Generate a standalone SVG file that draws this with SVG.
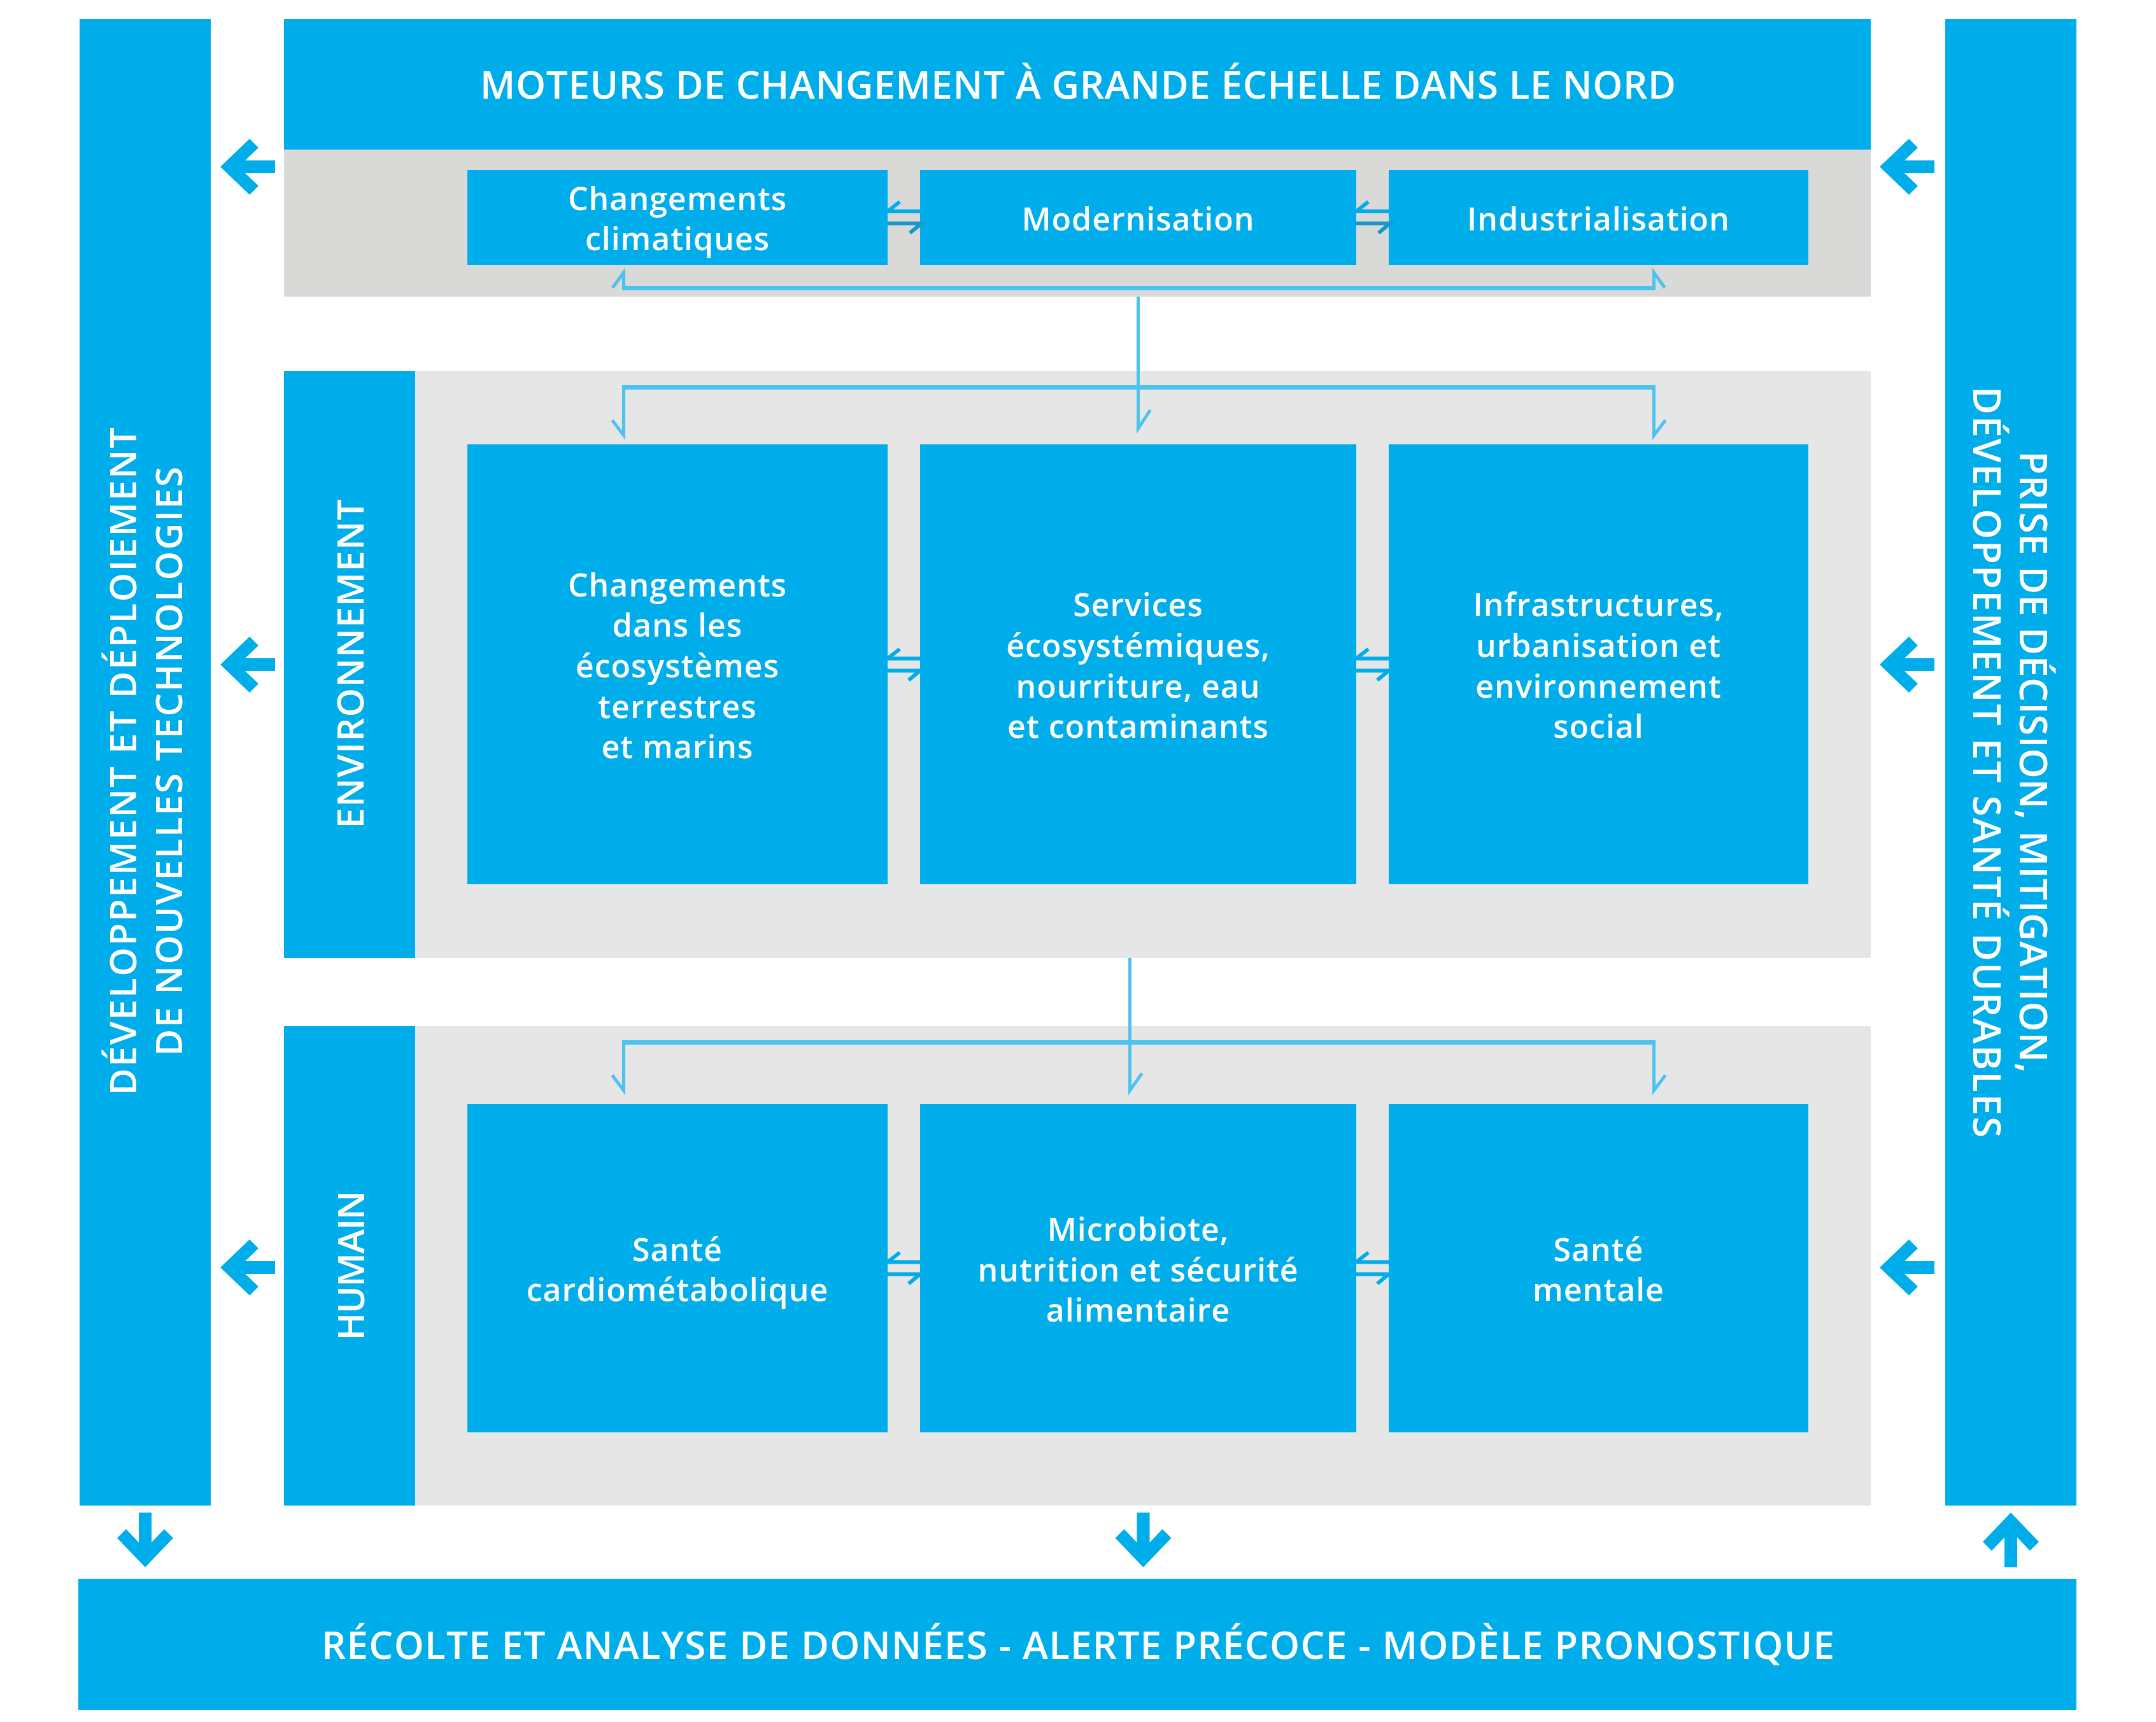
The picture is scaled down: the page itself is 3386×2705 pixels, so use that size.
<svg xmlns="http://www.w3.org/2000/svg" xmlns:xlink="http://www.w3.org/1999/xlink" width="3386" height="2705" viewBox="0 0 3386 2705">
<defs>
<style>
.blue{fill:#00ADEB}
.g1{fill:#D9D9D8}
.g2{fill:#E6E6E6}
.lbl{font-family:"Open Sans","Liberation Sans",sans-serif;font-weight:600;fill:#FFFFFF}
.cap{font-size:60px;text-anchor:middle}
.vcap{font-size:58px;text-anchor:middle}
.box{font-size:50px;letter-spacing:1px;text-anchor:middle}
.conn{fill:none;stroke:#4CC3EF;stroke-width:5;stroke-linejoin:miter;stroke-miterlimit:10}
.connh{fill:#4CC3EF}
.dbl{fill:none;stroke:#00ADEB;stroke-width:6;stroke-linejoin:miter;stroke-miterlimit:10}
.dbl2{fill:none;stroke:#1B96C8;stroke-width:6;stroke-linejoin:miter;stroke-miterlimit:10}
</style>
<path id="arr" d="M0,0 L46,-44 L60,-30 L39,-10 L86,-10 L86,10 L39,10 L60,30 L46,44 Z"/>
</defs>
<rect x="0" y="0" width="3386" height="2705" fill="#FFFFFF"/>

<g id="band-top">
<rect class="g1" x="446" y="235" width="2492" height="231"/>
</g>
<g id="banner-top">
<rect class="blue" x="446" y="30" width="2492" height="205"/>
<text class="lbl cap" x="1693" y="155" textLength="1878" lengthAdjust="spacing">MOTEURS DE CHANGEMENT À GRANDE ÉCHELLE DANS LE NORD</text>
</g>
<g id="col-left">
<rect class="blue" x="125" y="30" width="206" height="2335"/>
<text class="lbl vcap" transform="translate(214,1196) rotate(-90)" x="0" y="0" textLength="1049" lengthAdjust="spacing">DÉVELOPPEMENT ET DÉPLOIEMENT</text>
<text class="lbl vcap" transform="translate(286,1196) rotate(-90)" x="0" y="0" textLength="926" lengthAdjust="spacing">DE NOUVELLES TECHNOLOGIES</text>
</g>
<g id="col-right">
<rect class="blue" x="3055" y="30" width="206" height="2335"/>
<text class="lbl vcap" style="font-size:60px" transform="translate(3172,1197) rotate(90)" x="0" y="0" textLength="977" lengthAdjust="spacing">PRISE DE DÉCISION, MITIGATION,</text>
<text class="lbl vcap" style="font-size:60px" transform="translate(3099,1197) rotate(90)" x="0" y="0" textLength="1180" lengthAdjust="spacing">DÉVELOPPEMENT ET SANTÉ DURABLES</text>
</g>
<g id="band-env">
<rect class="g2" x="446" y="583" width="2492" height="922"/>
<rect class="blue" x="446" y="583" width="206" height="922"/>
<text class="lbl vcap" transform="translate(571,1043) rotate(-90)" x="0" y="0" textLength="517" lengthAdjust="spacing">ENVIRONNEMENT</text>
</g>
<g id="band-human">
<rect class="g2" x="446" y="1612" width="2492" height="753"/>
<rect class="blue" x="446" y="1612" width="206" height="753"/>
<text class="lbl vcap" transform="translate(572,1988) rotate(-90)" x="0" y="0" textLength="235" lengthAdjust="spacing">HUMAIN</text>
</g>
<g id="banner-bottom">
<rect class="blue" x="123" y="2480" width="3138" height="206"/>
<text class="lbl cap" x="1693" y="2606" textLength="2376" lengthAdjust="spacing">RÉCOLTE ET ANALYSE DE DONNÉES - ALERTE PRÉCOCE - MODÈLE PRONOSTIQUE</text>
</g>

<g id="node-changements-climatiques">
<rect class="blue" x="734" y="267" width="660" height="149"/>
<text class="lbl box" x="1064" y="330">Changements</text>
<text class="lbl box" x="1064" y="393">climatiques</text>
</g>
<g id="node-modernisation">
<rect class="blue" x="1445" y="267" width="685" height="149"/>
<text class="lbl box" x="1787.5" y="362">Modernisation</text>
</g>
<g id="node-industrialisation">
<rect class="blue" x="2181" y="267" width="659" height="149"/>
<text class="lbl box" x="2510.5" y="362">Industrialisation</text>
</g>

<g id="node-ecosystemes">
<rect class="blue" x="734" y="698" width="660" height="691"/>
<text class="lbl box" x="1064" y="936.6">Changements</text>
<text class="lbl box" x="1064" y="1000.3">dans les</text>
<text class="lbl box" x="1064" y="1064">écosystèmes</text>
<text class="lbl box" x="1064" y="1127.7">terrestres</text>
<text class="lbl box" x="1064" y="1191.4">et marins</text>
</g>
<g id="node-services">
<rect class="blue" x="1445" y="698" width="685" height="691"/>
<text class="lbl box" x="1787.5" y="968">Services</text>
<text class="lbl box" x="1787.5" y="1032">écosystémiques,</text>
<text class="lbl box" x="1787.5" y="1096">nourriture, eau</text>
<text class="lbl box" x="1787.5" y="1159">et contaminants</text>
</g>
<g id="node-infrastructures">
<rect class="blue" x="2181" y="698" width="659" height="691"/>
<text class="lbl box" x="2510.5" y="968">Infrastructures,</text>
<text class="lbl box" x="2510.5" y="1032">urbanisation et</text>
<text class="lbl box" x="2510.5" y="1096">environnement</text>
<text class="lbl box" x="2510.5" y="1159">social</text>
</g>

<g id="node-cardiometabolique">
<rect class="blue" x="734" y="1734" width="660" height="516"/>
<text class="lbl box" x="1064" y="1980.7">Santé</text>
<text class="lbl box" x="1064" y="2044.3">cardiométabolique</text>
</g>
<g id="node-microbiote">
<rect class="blue" x="1445" y="1734" width="685" height="516"/>
<text class="lbl box" x="1787.5" y="1949">Microbiote,</text>
<text class="lbl box" x="1787.5" y="2012.5">nutrition et sécurité</text>
<text class="lbl box" x="1787.5" y="2076">alimentaire</text>
</g>
<g id="node-sante-mentale">
<rect class="blue" x="2181" y="1734" width="659" height="516"/>
<text class="lbl box" x="2510.5" y="1980.7">Santé</text>
<text class="lbl box" x="2510.5" y="2044.3">mentale</text>
</g>

<g id="connectors">
<rect class="connh" x="977" y="449" width="1623" height="7"/>
<polyline class="conn" points="962,452 979.5,428 979.5,452"/>
<polyline class="conn" points="2614.5,452 2597.5,428 2597.5,452"/>
<polyline class="conn" points="1787.5,466 1787.5,673 1806.5,644"/>
<rect class="connh" x="977" y="605" width="1623" height="7"/>
<polyline class="conn" points="979.5,608 979.5,684 961.5,660"/>
<polyline class="conn" points="2597.5,608 2597.5,684 2615.5,660"/>
<polyline class="conn" points="1774.5,1505 1774.5,1713 1793.5,1686"/>
<rect class="connh" x="977" y="1634" width="1623" height="7"/>
<polyline class="conn" points="979.5,1637 979.5,1713 961.5,1689"/>
<polyline class="conn" points="2597.5,1637 2597.5,1713 2615.5,1689"/>
<path class="dbl" d="M1413,317 L1394,332 H1445"/>
<path class="dbl2" d="M1394,351 H1447 L1429,366"/>
<path class="dbl" d="M2149,317 L2130,332 H2181"/>
<path class="dbl2" d="M2130,351 H2183 L2165,366"/>
<path class="dbl" d="M1413,1019.5 L1394,1034.5 H1445"/>
<path class="dbl" d="M1394,1053.5 H1445 L1427,1068.5"/>
<path class="dbl" d="M2149,1019.5 L2130,1034.5 H2181"/>
<path class="dbl" d="M2130,1053.5 H2181 L2163,1068.5"/>
<path class="dbl" d="M1413,1967.5 L1394,1982.5 H1445"/>
<path class="dbl" d="M1394,2001.5 H1445 L1427,2016.5"/>
<path class="dbl" d="M2149,1967.5 L2130,1982.5 H2181"/>
<path class="dbl" d="M2130,2001.5 H2181 L2163,2016.5"/>
<use xlink:href="#arr" href="#arr" class="blue" transform="translate(346,262)"/>
<use xlink:href="#arr" href="#arr" class="blue" transform="translate(346,1044)"/>
<use xlink:href="#arr" href="#arr" class="blue" transform="translate(346,1991)"/>
<use xlink:href="#arr" href="#arr" class="blue" transform="translate(2952,262)"/>
<use xlink:href="#arr" href="#arr" class="blue" transform="translate(2952,1044)"/>
<use xlink:href="#arr" href="#arr" class="blue" transform="translate(2952,1991)"/>
<use xlink:href="#arr" href="#arr" class="blue" transform="translate(228,2462) rotate(-90)"/>
<use xlink:href="#arr" href="#arr" class="blue" transform="translate(1795.5,2462) rotate(-90)"/>
<use xlink:href="#arr" href="#arr" class="blue" transform="translate(3158,2376) rotate(90)"/>
</g>
</svg>
